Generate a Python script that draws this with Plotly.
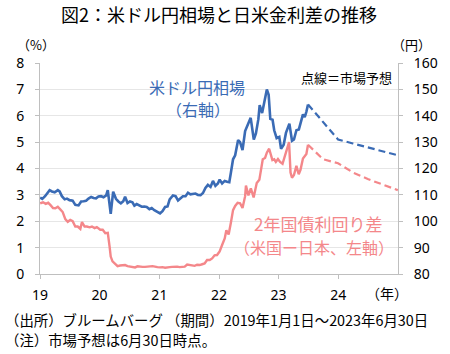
import plotly.graph_objects as go

# ---------------- data ----------------
fx_dates = [
    "2019-01-02", "2019-01-15", "2019-02-01", "2019-02-15", "2019-03-01", "2019-03-15",
    "2019-04-01", "2019-04-20", "2019-05-01", "2019-05-15", "2019-06-01", "2019-06-15",
    "2019-07-01", "2019-07-20", "2019-08-05", "2019-08-25", "2019-09-10", "2019-09-25",
    "2019-10-10", "2019-10-25", "2019-11-10", "2019-11-25", "2019-12-10", "2019-12-25",
    "2020-01-10", "2020-01-25", "2020-02-10", "2020-02-20", "2020-03-09", "2020-03-24",
    "2020-04-10", "2020-04-25", "2020-05-10", "2020-05-25", "2020-06-05", "2020-06-20",
    "2020-07-05", "2020-07-20", "2020-08-01", "2020-08-15", "2020-09-01", "2020-09-15",
    "2020-10-01", "2020-10-15", "2020-11-01", "2020-11-15", "2020-12-01", "2020-12-15",
    "2021-01-05", "2021-01-20", "2021-02-05", "2021-02-20", "2021-03-05", "2021-03-25",
    "2021-04-10", "2021-04-25", "2021-05-10", "2021-05-25", "2021-06-10", "2021-06-25",
    "2021-07-10", "2021-07-25", "2021-08-10", "2021-08-25", "2021-09-10", "2021-09-25",
    "2021-10-10", "2021-10-25", "2021-11-10", "2021-11-25", "2021-12-10", "2021-12-25",
    "2022-01-05", "2022-01-20", "2022-02-05", "2022-02-20", "2022-03-05", "2022-03-15",
    "2022-03-28", "2022-04-10", "2022-04-28", "2022-05-10", "2022-05-25", "2022-06-10",
    "2022-06-22", "2022-07-14", "2022-08-02", "2022-08-15", "2022-08-30", "2022-09-07",
    "2022-09-22", "2022-10-05", "2022-10-21", "2022-11-01", "2022-11-11", "2022-11-25",
    "2022-12-05", "2022-12-20", "2023-01-05", "2023-01-16", "2023-02-01", "2023-02-15",
    "2023-03-08", "2023-03-24", "2023-04-05", "2023-04-20", "2023-05-05", "2023-05-30",
    "2023-06-10", "2023-06-20", "2023-06-30",
]
fx_values = [
    109.0, 108.5, 109.5, 110.5, 111.8, 111.3,
    111.0, 111.8, 111.3, 109.5, 108.3, 108.6,
    108.0, 107.8, 106.2, 106.0, 107.5, 107.6,
    107.8, 108.6, 109.2, 108.8, 108.7, 109.4,
    109.5, 109.1, 109.8, 111.8, 102.8, 111.2,
    108.5, 107.5, 106.8, 107.6, 109.3, 106.9,
    107.5, 107.2, 105.9, 106.5, 106.0, 105.5,
    105.6, 105.4, 104.6, 105.0, 104.2, 103.6,
    103.0, 103.8, 105.4, 105.6, 108.3, 109.8,
    109.5, 107.9, 108.8, 109.5, 109.5, 110.8,
    110.2, 110.4, 110.5, 110.0, 109.9, 110.7,
    112.6, 113.8, 113.0, 115.3, 113.4, 114.3,
    115.8, 114.3, 115.3, 115.0, 114.8, 118.5,
    123.5, 125.0, 130.8, 130.0, 127.0, 134.2,
    136.0, 139.2, 131.0, 133.3, 138.7, 144.0,
    141.0, 144.5, 150.0, 148.0, 138.8, 138.5,
    134.5, 131.5, 132.0, 127.5, 129.0, 133.5,
    137.0, 130.5, 131.0, 134.5, 134.8, 140.5,
    139.5, 141.5, 144.3,
]

spread_dates = [
    "2019-01-02", "2019-01-20", "2019-02-05", "2019-02-20", "2019-03-05", "2019-03-22",
    "2019-04-05", "2019-04-20", "2019-05-05", "2019-05-20", "2019-06-05", "2019-06-20",
    "2019-07-05", "2019-07-20", "2019-08-05", "2019-08-20", "2019-09-05", "2019-09-15",
    "2019-10-01", "2019-10-15", "2019-11-01", "2019-11-15", "2019-12-01", "2019-12-15",
    "2020-01-05", "2020-01-20", "2020-02-05", "2020-02-20", "2020-03-02", "2020-03-09",
    "2020-03-20", "2020-04-05", "2020-04-20", "2020-05-05", "2020-05-20", "2020-06-05",
    "2020-06-20", "2020-07-05", "2020-07-20", "2020-08-05", "2020-08-20", "2020-09-05",
    "2020-09-20", "2020-10-05", "2020-10-20", "2020-11-05", "2020-11-20", "2020-12-05",
    "2020-12-20", "2021-01-05", "2021-01-20", "2021-02-05", "2021-02-20", "2021-03-05",
    "2021-03-20", "2021-04-05", "2021-04-20", "2021-05-05", "2021-05-20", "2021-06-05",
    "2021-06-20", "2021-07-05", "2021-07-20", "2021-08-05", "2021-08-20", "2021-09-05",
    "2021-09-20", "2021-10-05", "2021-10-20", "2021-11-05", "2021-11-20", "2021-12-05",
    "2021-12-20", "2022-01-05", "2022-01-20", "2022-02-05", "2022-02-15", "2022-03-01",
    "2022-03-15", "2022-03-28", "2022-04-10", "2022-04-25", "2022-05-10", "2022-05-25",
    "2022-06-10", "2022-06-15", "2022-06-30", "2022-07-15", "2022-08-01", "2022-08-20",
    "2022-09-05", "2022-09-15", "2022-09-26", "2022-10-10", "2022-10-21", "2022-11-04",
    "2022-11-24", "2022-12-05", "2022-12-15", "2022-12-28", "2023-01-10", "2023-01-25",
    "2023-02-10", "2023-02-24", "2023-03-06", "2023-03-15", "2023-03-24", "2023-04-05",
    "2023-04-20", "2023-05-04", "2023-05-15", "2023-05-30", "2023-06-10", "2023-06-20",
    "2023-06-30",
]
spread_values = [
    2.68, 2.72, 2.66, 2.70, 2.62, 2.50,
    2.49, 2.55, 2.45, 2.35, 2.08, 1.98,
    2.05, 2.00, 1.80, 1.80, 1.71, 1.97,
    1.80, 1.80, 1.77, 1.80, 1.74, 1.78,
    1.68, 1.68, 1.55, 1.56, 1.05, 0.66,
    0.48, 0.38, 0.30, 0.32, 0.32, 0.34,
    0.30, 0.28, 0.28, 0.25, 0.29, 0.27,
    0.27, 0.27, 0.27, 0.29, 0.30, 0.27,
    0.26, 0.25, 0.26, 0.24, 0.24, 0.26,
    0.27, 0.28, 0.28, 0.26, 0.28, 0.28,
    0.36, 0.35, 0.33, 0.31, 0.35, 0.34,
    0.37, 0.40, 0.53, 0.53, 0.59, 0.71,
    0.72, 0.86, 1.10, 1.35, 1.66, 1.50,
    1.95, 2.42, 2.58, 2.70, 2.68, 2.50,
    2.95, 3.35, 2.98, 3.25, 2.90, 3.45,
    3.57, 3.94, 4.35, 4.40, 4.60, 4.75,
    4.32, 4.35, 4.25, 4.36, 4.25, 4.18,
    4.52, 4.82, 5.00, 3.85, 3.65, 3.75,
    4.10, 3.78, 3.95, 4.38, 4.45, 4.55,
    4.90,
]

forecast_dates = ["2023-06-30", "2023-09-30", "2023-12-31", "2024-03-31",
                  "2024-06-30", "2024-09-30", "2024-12-31"]
fx_forecast = [144.3, 137.5, 131.0, 129.5, 128.0, 126.5, 125.0]
spread_forecast = [4.90, 4.35, 4.20, 3.85, 3.60, 3.40, 3.18]

x_tick_dates = ["2019-01-01", "2020-01-01", "2021-01-01", "2022-01-01",
                "2023-01-01", "2024-01-01"]
x_tick_labels = ["19", "20", "21", "22", "23", "24"]
left_ticks = [0, 1, 2, 3, 4, 5, 6, 7, 8]
right_ticks = [80, 90, 100, 110, 120, 130, 140, 150, 160]

# ---------------- styling ----------------
BLUE = "#3A6BB5"
PINK = "#F4878A"
JP = "Noto Sans CJK JP"
AXIS = "#BFBFBF"

fig = go.Figure()
fig.add_trace(go.Scatter(x=spread_dates, y=spread_values, mode="lines",
                         line=dict(color=PINK, width=2.4), yaxis="y"))
fig.add_trace(go.Scatter(x=forecast_dates, y=spread_forecast, mode="lines",
                         line=dict(color=PINK, width=2.2, dash="7px,4px"), yaxis="y"))
fig.add_trace(go.Scatter(x=fx_dates, y=fx_values, mode="lines",
                         line=dict(color=BLUE, width=2.6), yaxis="y2"))
fig.add_trace(go.Scatter(x=forecast_dates, y=fx_forecast, mode="lines",
                         line=dict(color=BLUE, width=2.2, dash="7px,4px"), yaxis="y2"))

L, R, T, B = 40, 45, 63, 80
W, H = 450, 354
pw, ph = W - L - R, H - T - B


def px(x):
    return (x - L) / pw


def py(y):
    return (H - B - y) / ph


annotations = [
    dict(text="米ドル円相場", x=px(200), y=py(87), color=BLUE, size=16),
    dict(text="（右軸）", x=px(201), y=py(109), color=BLUE, size=16),
    dict(text="点線＝市場予想", x=px(352), y=py(77), color="black", size=13),
    dict(text="2年国債利回り差", x=px(323), y=py(223), color=PINK, size=17),
    dict(text="（米国ー日本、左軸）", x=px(319), y=py(247), color=PINK, size=16),
    dict(text="（%）", x=px(36), y=py(44), color="black", size=13),
    dict(text="（円）", x=px(419), y=py(44), color="black", size=13),
    dict(text="（年）", x=px(394), y=py(293), color="black", size=14),
]
ann = []
for a in annotations:
    ann.append(dict(text=a["text"], x=a["x"], y=a["y"], xref="paper", yref="paper",
                    xanchor="center", yanchor="middle", showarrow=False,
                    font=dict(family=JP, size=a["size"], color=a["color"])))

ann.append(dict(text="（出所）ブルームバーグ （期間）2019年1月1日～2023年6月30日",
                x=px(2), y=py(319), xref="paper", yref="paper", xanchor="left",
                yanchor="middle", showarrow=False,
                font=dict(family=JP, size=14.4, color="black")))
ann.append(dict(text="（注）市場予想は6月30日時点。",
                x=px(2), y=py(339), xref="paper", yref="paper", xanchor="left",
                yanchor="middle", showarrow=False,
                font=dict(family=JP, size=14.4, color="black")))

fig.update_layout(
    width=W, height=H,
    margin=dict(l=L, r=R, t=T, b=B),
    paper_bgcolor="white", plot_bgcolor="white",
    showlegend=False,
    title=dict(text="図2：米ドル円相場と日米金利差の推移", x=0.5, xref="paper",
               xanchor="center", y=1 - 16 / H, yanchor="middle",
               font=dict(family=JP, size=18, color="black")),
    xaxis=dict(range=["2019-01-01", "2025-01-01"], tickvals=x_tick_dates,
               ticktext=x_tick_labels, showgrid=False, showline=True,
               linecolor=AXIS, linewidth=1, ticks="outside", ticklen=4,
               tickcolor=AXIS, tickfont=dict(family="Noto Sans", size=14, color="black"),
               ticklabelstandoff=4, zeroline=False),
    yaxis=dict(range=[0, 8], tickvals=left_ticks, showgrid=True, gridcolor="#E6E6E6",
               gridwidth=1, showline=True, linecolor=AXIS, linewidth=1,
               ticks="outside", ticklen=4, tickcolor=AXIS, zeroline=False,
               tickfont=dict(family="Noto Sans", size=14, color="black"),
               ticklabelstandoff=8),
    yaxis2=dict(range=[80, 160], tickvals=right_ticks, overlaying="y", side="right",
                showgrid=False, showline=True, linecolor=AXIS, linewidth=1,
                ticks="outside", ticklen=4, tickcolor=AXIS, zeroline=False,
                tickfont=dict(family="Noto Sans", size=14, color="black"),
                ticklabelstandoff=8),
    annotations=ann,
)

fig.write_html("out.html")
